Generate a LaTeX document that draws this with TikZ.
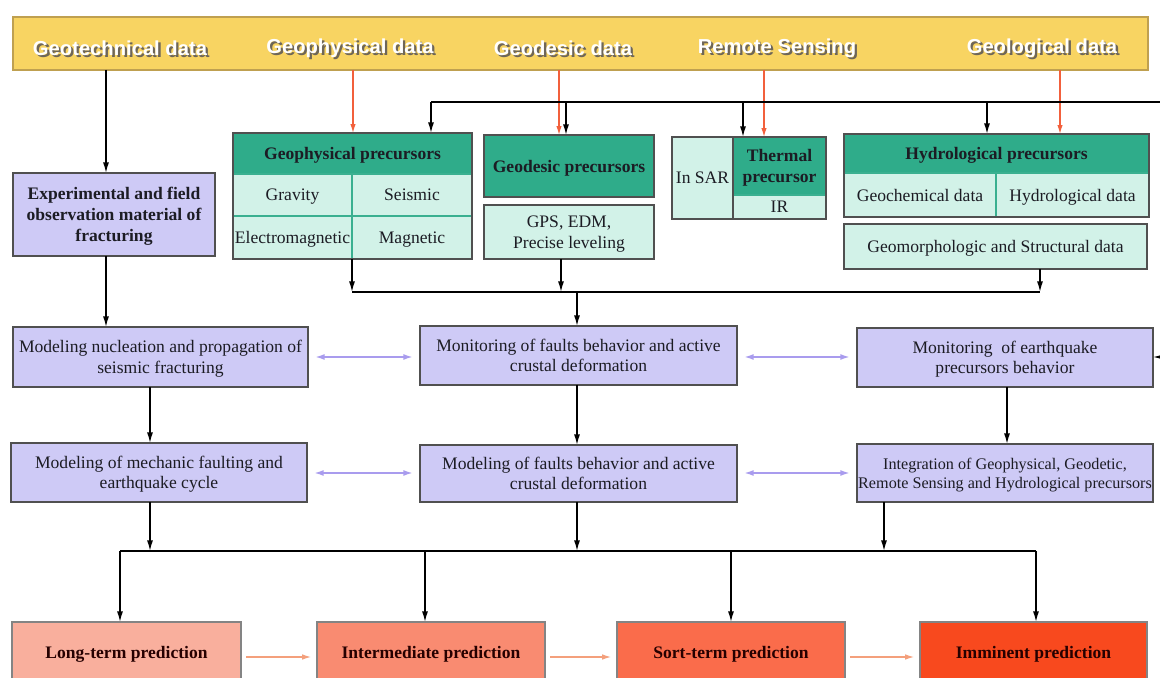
\documentclass[tikz,border=0pt]{standalone}
\usepackage{fontspec}
\setmainfont{Liberation Serif}
\newfontfamily\barfont{Liberation Sans}
\usetikzlibrary{arrows.meta,calc}
\definecolor{barfill}{HTML}{F8D462}
\definecolor{barline}{HTML}{BFA050}
\definecolor{tealfill}{HTML}{2FAC8A}
\definecolor{lightfill}{HTML}{D2F2E8}
\definecolor{tealline}{HTML}{3AB090}
\definecolor{lavfill}{HTML}{CECAF6}
\definecolor{bord}{HTML}{505050}
\definecolor{txt}{HTML}{1C1C24}
\definecolor{lavarrow}{HTML}{A99CEE}
\definecolor{arrred}{HTML}{F2603C}
\definecolor{orarrow}{HTML}{F4A07C}
\definecolor{longc}{HTML}{F9AF9D}
\definecolor{interc}{HTML}{F98B71}
\definecolor{sortc}{HTML}{FA6C4B}
\definecolor{immc}{HTML}{F8491E}
\definecolor{shadowgray}{HTML}{6E6658}
\newcommand\mybox[7]{\node[#6,minimum width={(#4-#2)*0.02cm},minimum height={(#5-#3)*0.02cm}] (#1) at ({(#2+#4)/2},{(#3+#5)/2}) {#7};}
\newcommand\shtxt[1]{\rlap{\kern1.3pt\raisebox{-1.3pt}{\textcolor{shadowgray}{#1}}}\textcolor{white}{#1}}
\begin{document}
\begin{tikzpicture}[x=0.02cm,y=-0.02cm,
  base/.style={inner sep=0pt,outer sep=0pt,text depth=0pt,font=\fontsize{10}{11.6}\selectfont,align=center,text=txt},
  lav/.style={base,draw=bord,line width=1pt,fill=lavfill},
  lavb/.style={lav,font=\fontsize{10}{12}\selectfont\bfseries},
  cell/.style={base,draw=tealline,line width=0.8pt,fill=lightfill},
  lightb/.style={base,draw=bord,line width=1pt,fill=lightfill},
  tealh/.style={base,fill=tealfill,font=\fontsize{10}{11.6}\selectfont\bfseries},
  tealb/.style={tealh,draw=bord,line width=1pt},
  bordline/.style={draw=bord,line width=1pt},
  bartxt/.style={inner sep=0pt,font=\barfont\bfseries\fontsize{11.5}{13}\selectfont},
  pred/.style={base,draw=bord!70,line width=0.6pt,font=\fontsize{10}{12}\selectfont\bfseries,text=black!85!red},
  blk/.style={-{Latex[length=6pt,width=3.4pt]},line width=0.8pt,black},
  line/.style={line width=0.8pt,black},
  redarr/.style={-{Latex[length=5pt,width=3pt]},line width=0.7pt,arrred},
  lavarr/.style={{Latex[length=5.5pt,width=3.4pt]}-{Latex[length=5.5pt,width=3.4pt]},line width=1pt,lavarrow,shorten <=4pt,shorten >=4pt},
  orarr/.style={-{Latex[length=5.5pt,width=3.2pt]},line width=1pt,orarrow,shorten <=3pt,shorten >=3pt}]
\useasboundingbox (0,0) rectangle (1160,678);
\fill[white] (0,0) rectangle (1160,678);

% top bar
\mybox{bar}{13}{17}{1148}{70}{base,fill=barfill,draw=barline,line width=0.8pt}{}
\node[bartxt] (tgeot) at (120,49) {\shtxt{Geotechnical data}};
\node[bartxt] (tgeoph) at (350,49) {\shtxt{Geophysical data}};
\node[bartxt] (tgeod) at (563,49) {\shtxt{Geodesic data}};
\node[bartxt] (trs) at (777,49) {\shtxt{Remote Sensing}};
\node[bartxt] (tgeol) at (1042,49) {\shtxt{Geological data}};

% geophysical precursors
\mybox{gphysH}{233}{133}{472}{174}{tealh}{Geophysical precursors}
\mybox{ggrav}{233}{174}{352}{216}{cell}{Gravity}
\mybox{gseis}{352}{174}{472}{216}{cell}{Seismic}
\mybox{gelec}{233}{216}{352}{259}{cell}{Electromagnetic}
\mybox{gmag}{352}{216}{472}{259}{cell}{Magnetic}
\draw[bordline] (gphysH.north west) rectangle (gmag.south east);

% geodesic
\mybox{gdes}{484}{135}{654}{197}{tealb}{Geodesic precursors}
\mybox{gps}{484}{205}{654}{259}{lightb}{GPS, EDM,\\Precise leveling}

% InSAR / thermal
\mybox{insar}{672}{137}{733}{219}{cell}{In SAR}
\mybox{thermH}{733}{137}{826}{195}{tealh}{Thermal\\precursor}
\mybox{ir}{733}{195}{826}{219}{cell}{IR}
\draw[bordline] (insar.north west) rectangle (ir.south east);
\draw[bordline] (insar.north east) -- (insar.south east);

% hydrological
\mybox{hydroH}{844}{134}{1149}{173}{tealh}{Hydrological precursors}
\mybox{geochem}{844}{173}{996}{217}{cell}{Geochemical data}
\mybox{hydd}{996}{173}{1149}{217}{cell}{Hydrological data}
\draw[bordline] (hydroH.north west) rectangle (hydd.south east);
\mybox{geomor}{844}{224}{1147}{269}{lightb}{Geomorphologic and Structural data}

% lavender boxes
\mybox{exp}{13}{173}{215}{256}{lavb}{Experimental and field\\observation material of\\fracturing}
\mybox{mnuc}{13}{327}{308}{387}{lav}{Modeling nucleation and propagation of\\seismic fracturing}
\mybox{mmech}{11}{443}{307}{502}{lav}{Modeling of mechanic faulting and\\earthquake cycle}
\mybox{mfault}{420}{326}{737}{385}{lav}{Monitoring of faults behavior and active\\crustal deformation}
\mybox{mfault2}{420}{445}{737}{502}{lav}{Modeling of faults behavior and active\\crustal deformation}
\mybox{mprec}{857}{328}{1153}{387}{lav}{Monitoring\ \ of earthquake\\precursors behavior}
\mybox{integ}{857}{444}{1153}{502}{lav,font=\fontsize{9.2}{11}\selectfont}{Integration of Geophysical, Geodetic,\\Remote Sensing and Hydrological precursors}

% prediction boxes
\mybox{long}{12}{622}{241}{682}{pred,fill=longc}{Long-term prediction}
\mybox{inter}{317}{622}{545}{682}{pred,fill=interc}{Intermediate prediction}
\mybox{sort}{617}{622}{845}{682}{pred,fill=sortc}{Sort-term prediction}
\mybox{imm}{920}{622}{1147}{682}{pred,fill=immc}{Imminent prediction}

% coordinates
\coordinate (xgt) at (106,0);
\coordinate (r1) at (353,0);
\coordinate (r2) at (559,0);
\coordinate (r3) at (764,0);
\coordinate (r4) at (1060,0);
\coordinate (tb) at (431,102);
\coordinate (tbR) at (1160,102);
\coordinate (t2) at (566,102);
\coordinate (t3) at (743,102);
\coordinate (t4) at (987,102);
\coordinate (mb) at (352,292);
\coordinate (mbR) at (1040,292);
\coordinate (m2) at (561,292);
\coordinate (m3) at (577,292);
\coordinate (row1) at (0,357);
\coordinate (row2) at (0,473);
\coordinate (c150) at (150,0);
\coordinate (c577) at (577,0);
\coordinate (c884) at (884,0);
\coordinate (c1007) at (1007,0);
\coordinate (bl) at (120,551);
\coordinate (br) at (1036,551);
\coordinate (b2) at (425,551);
\coordinate (b3) at (731,551);
\coordinate (fb) at (1160,357);

% left column
\draw[blk] (bar.south -| xgt) -- (exp.north -| xgt);
\draw[blk] (exp.south -| xgt) -- (mnuc.north -| xgt);
\draw[blk] (mnuc.south -| c150) -- (mmech.north -| c150);

% red data arrows
\draw[redarr] (bar.south -| r1) -- (gphysH.north -| r1);
\draw[redarr] (bar.south -| r2) -- (gdes.north -| r2);
\draw[redarr] (bar.south -| r3) -- (thermH.north -| r3);
\draw[redarr] (bar.south -| r4) -- (hydroH.north -| r4);

% top bus
\draw[line] (tb) -- (tbR);
\draw[blk] (tb) -- (gphysH.north -| tb);
\draw[blk] (t2) -- (gdes.north -| t2);
\draw[blk] (t3) -- (thermH.north -| t3);
\draw[blk] (t4) -- (hydroH.north -| t4);

% middle bus
\draw[line] (mb) -- (mbR);
\draw[blk] (gmag.south west) -- (mb);
\draw[blk] (gps.south -| m2) -- (m2);
\draw[blk] (geomor.south -| mbR) -- (mbR);
\draw[blk] (m3) -- (mfault.north -| m3);

% feedback from right
\draw[blk] (fb) -- (mprec.east |- fb);

% vertical flows
\draw[blk] (mfault.south -| c577) -- (mfault2.north -| c577);
\draw[blk] (mprec.south -| c1007) -- (integ.north -| c1007);

% lavender double arrows
\draw[lavarr] (mnuc.east |- row1) -- (mfault.west |- row1);
\draw[lavarr] (mfault.east |- row1) -- (mprec.west |- row1);
\draw[lavarr] (mmech.east |- row2) -- (mfault2.west |- row2);
\draw[lavarr] (mfault2.east |- row2) -- (integ.west |- row2);

% bottom bus
\draw[line] (bl) -- (br);
\draw[blk] (mmech.south -| c150) -- (bl -| c150);
\draw[blk] (mfault2.south -| c577) -- (bl -| c577);
\draw[blk] (integ.south -| c884) -- (bl -| c884);
\draw[blk] (bl) -- (long.north -| bl);
\draw[blk] (b2) -- (inter.north -| b2);
\draw[blk] (b3) -- (sort.north -| b3);
\draw[blk] (br) -- (imm.north -| br);

% prediction chain
\draw[orarr] ([yshift=-0.1cm]long.east) -- ([yshift=-0.1cm]inter.west);
\draw[orarr] ([yshift=-0.1cm]inter.east) -- ([yshift=-0.1cm]sort.west);
\draw[orarr] ([yshift=-0.1cm]sort.east) -- ([yshift=-0.1cm]imm.west);
\end{tikzpicture}
\end{document}
